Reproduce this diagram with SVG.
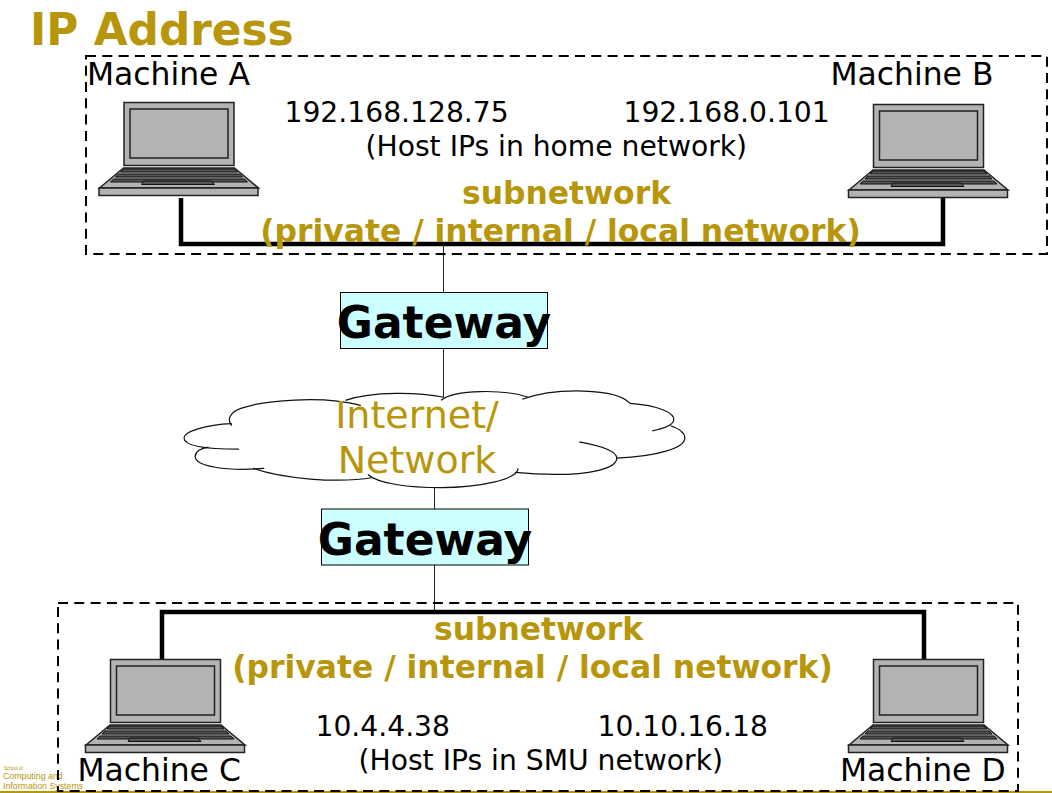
<svg xmlns="http://www.w3.org/2000/svg" width="1052" height="793" viewBox="0 0 1052 793">
<style>
text{font-family:"DejaVu Sans",sans-serif;fill:#000}
.gold{fill:#b8960c}
.b{font-weight:bold}
.lab{font-size:31.4px}
.ip{font-size:28.2px}
.sub{font-size:31.4px;font-weight:bold;fill:#b8960c;text-anchor:middle}
.gw{font-size:44px;font-weight:bold;text-anchor:middle}
.net{font-size:38px;fill:#b8960c;text-anchor:middle}
.logo{font-family:"Liberation Sans",sans-serif}
.dash{fill:none;stroke:#000;stroke-width:2;stroke-dasharray:10 6.300}
.bus{fill:none;stroke:#000;stroke-width:4.500}
.thin{fill:none;stroke:#222;stroke-width:1}
.box{fill:#ccffff;stroke:#000;stroke-width:1}
.cl{fill:none;stroke:#111;stroke-width:1.200}
.lg{fill:#b3b3b3;stroke:#222;stroke-width:1.500}
.dk{fill:#555;stroke:#111;stroke-width:1}
</style>
<defs>
<g id="laptop">
<rect class="lg" x="25.500" y="0.500" width="110" height="63"/>
<rect class="lg" x="31.500" y="7" width="98" height="49"/>
<path class="lg" d="M1 86 L25 66 L136 66 L160 86 Z"/>
<path class="dk" d="M25 67 H136 L139 70 H22 Z"/>
<path class="dk" d="M20 72 H141 L144 75 H17 Z"/>
<path class="dk" d="M15 77 H146 L149 80 H12 Z"/>
<path class="dk" d="M45 79 H113 L116 82.500 H43 Z"/>
<rect class="lg" x="0.500" y="86" width="159" height="7.500"/>
</g>
</defs>
<g id="title"><text class="gold b" x="30" y="45" font-size="43.800">IP Address</text></g>
<g id="logo">
<text class="gold logo" x="4" y="770" font-size="4.500">School of</text>
<text class="gold logo" x="3" y="779" font-size="8.800">Computing and</text>
<text class="gold logo" x="3" y="789" font-size="8.800">Information Systems</text>
<rect x="0" y="791" width="1052" height="2" fill="#b8960c"/>
</g>
<g id="connectors">
<path class="bus" d="M181 198V244H943V198"/>
<path class="thin" d="M443.500 244V292M443.500 348V397M434.500 486V509M434.500 565V610"/>
<path class="bus" d="M162 659V612H924V659"/>
</g>
<g id="subnet-home"><rect class="dash" x="86" y="56" width="961" height="198"/></g>
<g id="subnet-smu"><rect class="dash" x="58" y="603" width="960" height="188"/></g>
<g id="machine-a"><use href="#laptop" x="98.500" y="102"/><text class="lab" x="87" y="85">Machine A</text></g>
<g id="machine-b"><use href="#laptop" x="848" y="104"/><text class="lab" x="830.500" y="85">Machine B</text></g>
<g id="machine-c"><use href="#laptop" x="85" y="659"/><text class="lab" x="77.500" y="781">Machine C</text></g>
<g id="machine-d"><use href="#laptop" x="848" y="659"/><text class="lab" x="840" y="781">Machine D</text></g>
<g id="home-labels">
<text class="ip" x="284.500" y="122">192.168.128.75</text>
<text class="ip" x="623.500" y="122">192.168.0.101</text>
<text class="ip" x="365.500" y="156">(Host IPs in home network)</text>
<text class="sub" x="566.500" y="204">subnetwork</text>
<text class="sub" x="560.500" y="242">(private / internal / local network)</text>
</g>
<g id="smu-labels">
<text class="sub" x="538.500" y="640">subnetwork</text>
<text class="sub" x="532.500" y="678">(private / internal / local network)</text>
<text class="ip" x="315.500" y="736">10.4.4.38</text>
<text class="ip" x="597.500" y="736">10.10.16.18</text>
<text class="ip" x="358.500" y="770">(Host IPs in SMU network)</text>
</g>
<g id="gateway-top"><rect class="box" x="340.500" y="292.500" width="207" height="56"/><text class="gw" x="444" y="338">Gateway</text></g>
<g id="gateway-bottom"><rect class="box" x="321.500" y="509" width="207" height="56"/><text class="gw" x="425" y="555">Gateway</text></g>
<g id="cloud">
<g transform="translate(184 380) scale(1.0158) translate(-184 -380)">
<path fill="#fff" d="M231 425C200 425 184 430 184 437C184 442 195 445 208 446C195 450 195 455 195 455C200 465 225 469 252 467C270 475 300 480 370 476C390 483 420 486 437 486C470 486 505 480 513 467C530 472 550 473 570 473C590 472 605 465 610 457C640 456 677 450 677 437C677 430 670 426 663 425C670 420 666 410 623 403C610 392 560 388 523 397C500 390 460 390 440 397C420 392 370 392 343 400C320 397 240 400 229 415Z"/>
<path class="cl" d="M231 425C226 419 229 412 240 408C262 400 320 395 358 405"/>
<path class="cl" d="M343 400C370 391 415 392 440 397"/>
<path class="cl" d="M437 400C450 389 500 389 523 397"/>
<path class="cl" d="M517 399C550 387 610 388 623 403"/>
<path class="cl" d="M623 403C650 405 668 412 666 420C665 425 655 428 645 430"/>
<path class="cl" d="M663 425C672 428 677 432 677 437C677 447 650 455 610 457"/>
<path class="cl" d="M573 441C595 445 610 450 610 457C610 468 580 473 550 473C535 473 520 472 510 471"/>
<path class="cl" d="M513 467C512 478 475 486 437 486C405 486 375 482 365 473"/>
<path class="cl" d="M370 476C335 482 280 477 252 467"/>
<path class="cl" d="M263 467C225 470 195 465 195 455C195 451 200 447 208 446"/>
<path class="cl" d="M238 448C205 448 184 445 184 437C184 431 205 424 231 423"/>
</g>
<text class="net" x="417" y="428">Internet/</text>
<text class="net" x="417" y="473">Network</text>
</g>
</svg>
